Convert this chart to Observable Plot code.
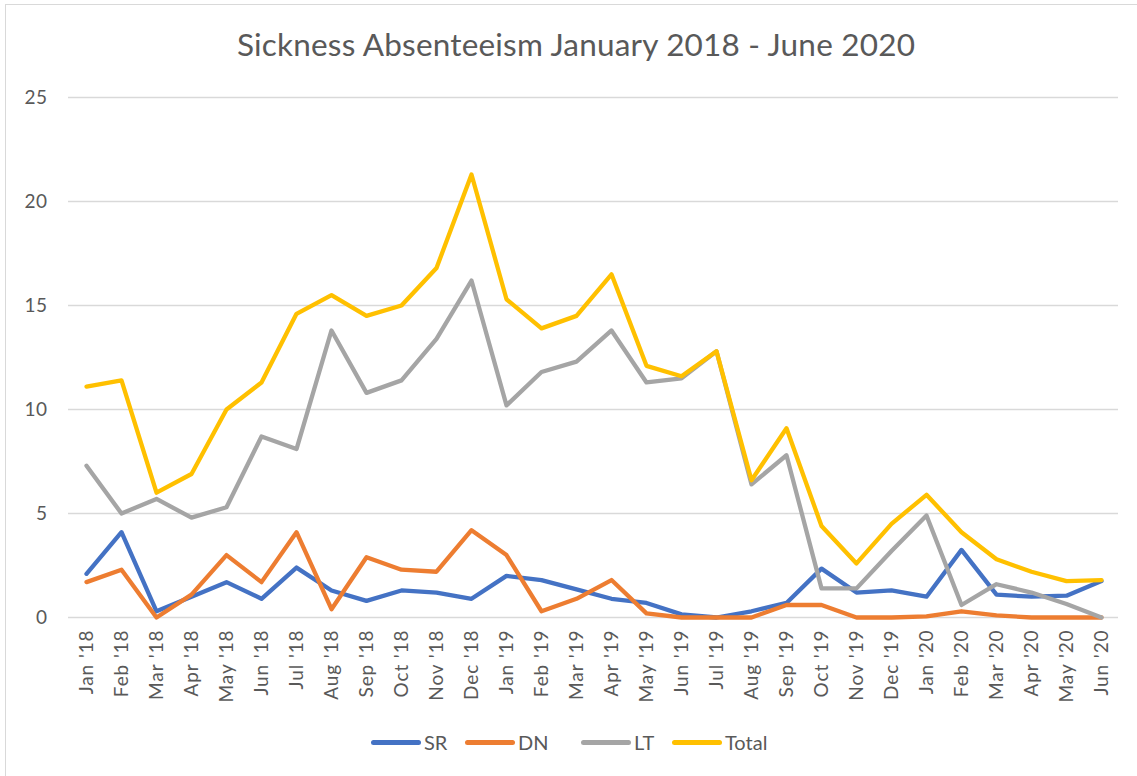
<!DOCTYPE html>
<html>
<head>
<meta charset="utf-8">
<script src="https://cdn.jsdelivr.net/npm/d3@7"></script>
<script src="https://cdn.jsdelivr.net/npm/@observablehq/plot@0.6"></script>
<style>
  html, body { margin: 0; padding: 0; background: #fff; }
  #wrap { position: relative; width: 1137px; height: 776px; overflow: hidden; font-family: Lato, "Open Sans", sans-serif; color: #595959; }
  #frame { position: absolute; left: 5px; top: 4px; width: 1140px; height: 780px; border-left: 1px solid #d9d9d9; border-top: 1px solid #d9d9d9; box-sizing: border-box; }
  #title { position: absolute; left: 0; width: 1152px; top: 25px; text-align: center; font-size: 31.5px; letter-spacing: 0.2px; }
  #chart { position: absolute; left: 0; top: 0; }
  #chart svg g[aria-label="x-axis tick label"] text { font-size: 19px; letter-spacing: 0.9px; }
  #chart svg g[aria-label="y-axis tick label"] text { font-size: 19px; letter-spacing: 0.5px; }
  #legend { position: absolute; top: 728px; left: 0; width: 1137px; height: 28px; }
  .item { position: absolute; top: 0; font-size: 20px; line-height: 28px; }
  .sw { position: absolute; top: 12px; height: 5px; width: 50px; border-radius: 2.5px; }
</style>
</head>
<body>
<div id="wrap">
  <div id="frame"></div>
  <div id="chart"></div>
  <div id="title"></div>
  <div id="legend"></div>
</div>
<script>
const titleText = "Sickness Absenteeism January 2018 - June 2020";
const months = ["Jan '18","Feb '18","Mar '18","Apr '18","May '18","Jun '18","Jul '18","Aug '18","Sep '18","Oct '18","Nov '18","Dec '18",
  "Jan '19","Feb '19","Mar '19","Apr '19","May '19","Jun '19","Jul '19","Aug '19","Sep '19","Oct '19","Nov '19","Dec '19",
  "Jan '20","Feb '20","Mar '20","Apr '20","May '20","Jun '20"];
const seriesNames = ["SR", "DN", "LT", "Total"];
const seriesColors = ["#4472C4", "#ED7D31", "#A5A5A5", "#FFC000"];
const SR = [2.1,4.1,0.3,1.0,1.7,0.9,2.4,1.3,0.8,1.3,1.2,0.9, 2.0,1.8,1.35,0.9,0.7,0.15,0.0,0.3,0.7,2.35,1.2,1.3, 1.0,3.25,1.1,1.0,1.05,1.75];
const DN = [1.7,2.3,0.0,1.1,3.0,1.7,4.1,0.4,2.9,2.3,2.2,4.2, 3.0,0.3,0.9,1.8,0.2,0.0,0.0,0.0,0.6,0.6,0.0,0.0, 0.05,0.3,0.1,0.0,0.0,0.0];
const LT = [7.3,5.0,5.7,4.8,5.3,8.7,8.1,13.8,10.8,11.4,13.4,16.2, 10.2,11.8,12.3,13.8,11.3,11.5,12.8,6.4,7.8,1.4,1.4,3.2, 4.9,0.6,1.6,1.2,0.65,0.0];
const Total = [11.1,11.4,6.0,6.9,10.0,11.3,14.6,15.5,14.5,15.0,16.8,21.3, 15.3,13.9,14.5,16.5,12.1,11.6,12.8,6.6,9.1,4.4,2.6,4.5, 5.9,4.1,2.8,2.2,1.75,1.8];
const yTicks = [0, 5, 10, 15, 20, 25];

const valuesBySeries = [SR, DN, LT, Total];
const rows = [];
seriesNames.forEach((s, i) => valuesBySeries[i].forEach((v, j) => rows.push({series: s, month: months[j], value: v})));

const chart = Plot.plot({
  width: 1137,
  height: 776,
  marginLeft: 68,
  marginRight: 19,
  marginTop: 97,
  marginBottom: 159,
  style: {fontFamily: "Lato, 'Open Sans', sans-serif", fontSize: "19px", color: "#595959", background: "transparent"},
  x: {type: "point", domain: months, padding: 0.5, label: null},
  y: {domain: [0, 25], ticks: yTicks, label: null},
  color: {domain: seriesNames, range: seriesColors},
  marks: [
    Plot.gridY(yTicks, {stroke: "#d9d9d9", strokeOpacity: 1, strokeWidth: 1.3}),
    Plot.axisY(yTicks, {tickSize: 0, tickPadding: 21, fill: "#595959"}),
    Plot.axisX({tickSize: 0, tickPadding: 12, tickRotate: -90, fill: "#595959"}),
    Plot.line(rows, {x: "month", y: "value", z: "series", stroke: "series", strokeWidth: 4.3, strokeLinejoin: "round", strokeLinecap: "round"})
  ]
});
document.getElementById("chart").appendChild(chart);
document.getElementById("title").textContent = titleText;

const legend = document.getElementById("legend");
const legendX = [371, 465, 581, 672];
seriesNames.forEach((s, i) => {
  const sw = document.createElement("div");
  sw.className = "sw";
  sw.style.left = legendX[i] + "px";
  sw.style.background = seriesColors[i];
  legend.appendChild(sw);
  const t = document.createElement("div");
  t.className = "item";
  t.style.left = (legendX[i] + 53) + "px";
  t.textContent = s;
  legend.appendChild(t);
});
</script>
</body>
</html>
